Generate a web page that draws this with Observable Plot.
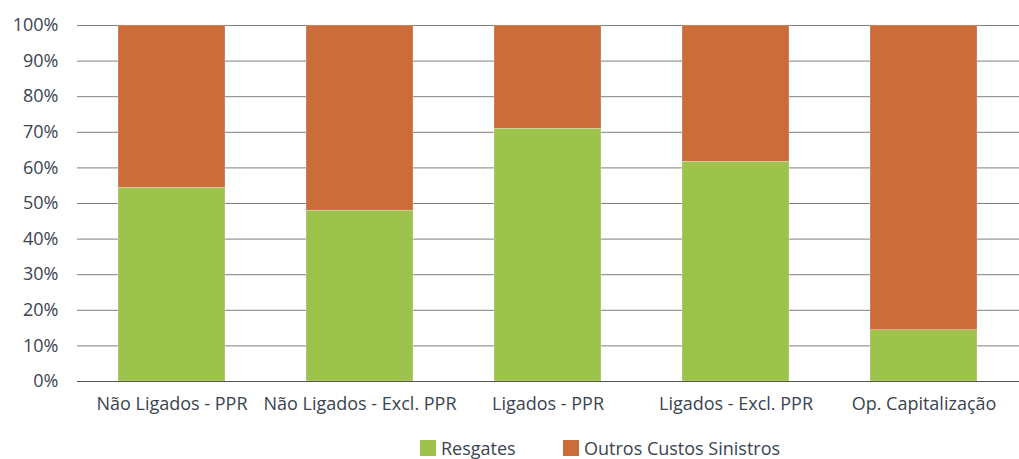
<!DOCTYPE html>
<html>
<head>
<meta charset="utf-8">
<script src="https://cdn.jsdelivr.net/npm/d3@7"></script>
<script src="https://cdn.jsdelivr.net/npm/@observablehq/plot@0.6"></script>
<style>
  html, body { margin: 0; padding: 0; background: #fff; }
  #wrap { position: relative; width: 1019px; height: 459px; overflow: hidden; font-family: "Open Sans", sans-serif; color: #3a4450; }
  #legend { position: absolute; left: 0; top: 437px; width: 1019px; height: 22px; font-size: 18px; line-height: 22px; }
  .item { position: absolute; top: 0; display: flex; align-items: center; gap: 5px; }
  .sw { width: 16px; height: 16px; display: inline-block; }
</style>
</head>
<body>
<div id="wrap"><div id="chart"></div><div id="legend"></div></div>
<script>
const categories = ["Não Ligados - PPR", "Não Ligados - Excl. PPR", "Ligados - PPR", "Ligados - Excl. PPR", "Op. Capitalização"];
const resgates = [54.4, 48.0, 71.0, 61.7, 14.4];
const outros = [45.6, 52.0, 29.0, 38.3, 85.6];
const seriesNames = ["Resgates", "Outros Custos Sinistros"];
const seriesColors = ["#9DC34C", "#CB6C3B"];
const yTicks = [0, 10, 20, 30, 40, 50, 60, 70, 80, 90, 100];

const data = [];
categories.forEach((c, i) => {
  data.push({cat: c, series: seriesNames[0], value: resgates[i]});
  data.push({cat: c, series: seriesNames[1], value: outros[i]});
});

const chart = Plot.plot({
  width: 1019,
  height: 436,
  marginLeft: 77,
  marginRight: 0,
  marginTop: 25,
  marginBottom: 55,
  style: {fontFamily: "Open Sans, sans-serif", fontSize: "18px", color: "#3a4450", background: "#fff"},
  x: {domain: categories, paddingInner: 0.43, paddingOuter: 0.215, label: null, tickSize: 0, tickPadding: 16},
  y: {domain: [0, 100], ticks: yTicks, tickFormat: d => d + "%", label: null, tickSize: 0, tickPadding: 19},
  color: {domain: seriesNames, range: seriesColors},
  marks: [
    Plot.ruleY(yTicks, {stroke: "#7f7f7f", strokeWidth: 1}),
    Plot.barY(data, {x: "cat", y: "value", fill: "series", order: seriesNames, stroke: "#fff", strokeWidth: 0.5, strokeOpacity: 0.5}),
    Plot.ruleY([0], {stroke: "#555", strokeWidth: 1})
  ]
});
document.getElementById("chart").appendChild(chart);

const legend = document.getElementById("legend");
const lefts = [420, 563];
seriesNames.forEach((n, i) => {
  const it = document.createElement("div");
  it.className = "item";
  it.style.left = lefts[i] + "px";
  it.innerHTML = `<span class="sw" style="background:${seriesColors[i]}"></span><span>${n}</span>`;
  legend.appendChild(it);
});
</script>
</body>
</html>
